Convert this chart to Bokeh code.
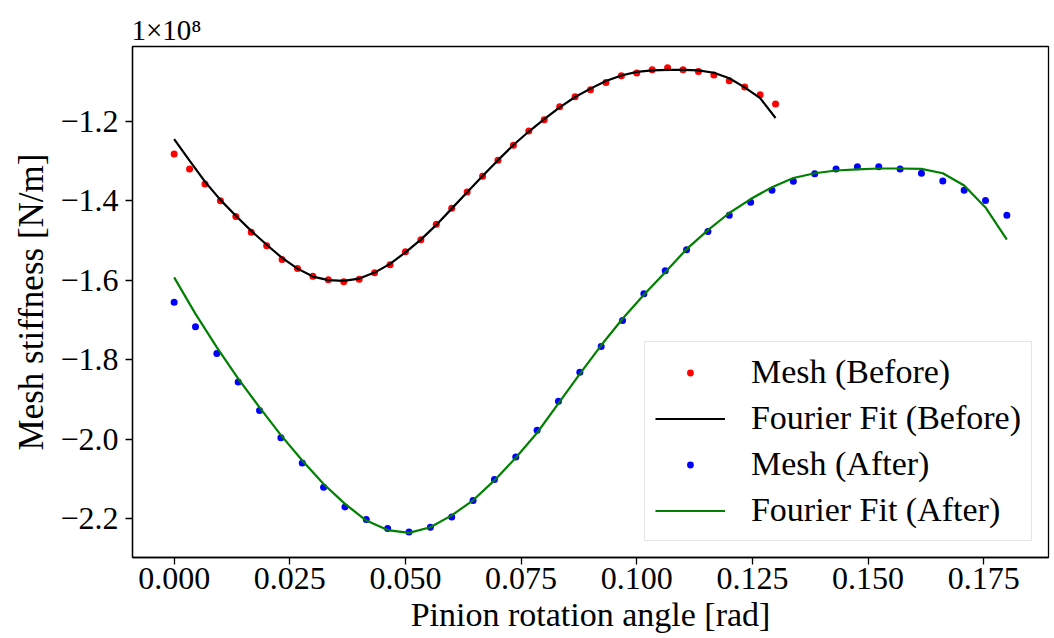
from bokeh.plotting import figure
from bokeh.models import FixedTicker, NumeralTickFormatter, Legend, LegendItem, Range1d
from bokeh.embed import file_html
from bokeh.resources import INLINE

# Pinion rotation angle [rad]: 40 evaluation points for each case
angle_before = [0.13 * i / 39 for i in range(40)]
angle_after = [0.18 * i / 39 for i in range(40)]

# Mesh stiffness, in units of 1e8 N/m
mesh_before = [
    -1.2825, -1.320, -1.358, -1.400, -1.440, -1.4795, -1.5137, -1.548, -1.5708, -1.590,
    -1.599, -1.604, -1.598, -1.5816, -1.5615, -1.5288, -1.4986, -1.4594, -1.4192, -1.378,
    -1.3388, -1.2985, -1.2608, -1.2245, -1.1962, -1.1635, -1.1384, -1.1208, -1.1025, -1.0856,
    -1.0788, -1.0705, -1.0654, -1.0705, -1.0748, -1.0839, -1.0982, -1.114, -1.1334, -1.1568,
]
fit_before = [
    -1.245, -1.299, -1.352, -1.398, -1.438, -1.476, -1.511, -1.544, -1.571, -1.591,
    -1.600, -1.602, -1.596, -1.581, -1.559, -1.530, -1.498, -1.461, -1.420, -1.379,
    -1.338, -1.298, -1.260, -1.226, -1.195, -1.165, -1.139, -1.118, -1.099, -1.085,
    -1.076, -1.072, -1.071, -1.071, -1.072, -1.078, -1.092, -1.115, -1.142, -1.192,
]
mesh_after = [
    -1.6555, -1.7173, -1.7845, -1.8566, -1.9278, -1.9964, -2.0602, -2.1213, -2.1708, -2.2025,
    -2.2251, -2.2337, -2.2219, -2.196, -2.1548, -2.102, -2.0452, -1.978, -1.905, -1.832,
    -1.767, -1.7015, -1.6344, -1.5766, -1.5238, -1.4778, -1.4368, -1.4041, -1.374, -1.3513,
    -1.332, -1.3202, -1.3144, -1.3144, -1.3202, -1.3312, -1.3503, -1.374, -1.3998, -1.4368,
]
fit_after = [
    -1.593, -1.685, -1.769, -1.848, -1.920, -1.990, -2.054, -2.113, -2.163, -2.205,
    -2.229, -2.236, -2.222, -2.192, -2.154, -2.104, -2.047, -1.984, -1.910, -1.836,
    -1.764, -1.697, -1.637, -1.580, -1.522, -1.474, -1.431, -1.396, -1.366, -1.343,
    -1.331, -1.324, -1.321, -1.319, -1.319, -1.320, -1.331, -1.362, -1.417, -1.498,
]

x_ticks = [0.0, 0.025, 0.05, 0.075, 0.1, 0.125, 0.15, 0.175]
y_ticks = [-2.2, -2.0, -1.8, -1.6, -1.4, -1.2]
y_tick_labels = {t: ("\u2212%.1f" % abs(t)) for t in y_ticks}

FONT = "Liberation Serif"
TICK_FS = "32px"
LABEL_FS = "34px"

p = figure(
    width=1054, height=638,
    output_backend="svg", toolbar_location=None,
    x_range=Range1d(-0.009, 0.189), y_range=Range1d(-2.298, -1.012),
    min_border_left=132, min_border_right=6, min_border_top=46, min_border_bottom=81,
)
p.background_fill_color = "white"
p.border_fill_color = "white"
p.grid.visible = False
p.outline_line_color = "black"
p.outline_line_width = 1.3

# scale factor of the y values, shown above the top-left corner
p.title.text = "1\u00d710\u2078"
p.title.align = "left"
p.title.text_font = FONT
p.title.text_font_size = "29px"
p.title.text_font_style = "normal"
p.title.text_color = "black"
p.title.standoff = 2
p.title.offset = -1

r1 = p.scatter(angle_before, mesh_before, size=7, color="red", line_color=None)
r2 = p.line(angle_before, fit_before, line_width=2.2, color="black")
r3 = p.scatter(angle_after, mesh_after, size=7, color="blue", line_color=None)
r4 = p.line(angle_after, fit_after, line_width=2.2, color="green")

for ax in (p.xaxis[0], p.yaxis[0]):
    ax.axis_line_color = "black"
    ax.axis_line_width = 1.3
    ax.major_tick_line_color = "black"
    ax.major_tick_line_width = 1.3
    ax.major_tick_out = 7
    ax.major_tick_in = 0
    ax.minor_tick_line_color = None
    ax.major_label_text_font = FONT
    ax.major_label_text_font_size = TICK_FS
    ax.major_label_text_color = "black"
    ax.axis_label_text_font = FONT
    ax.axis_label_text_font_style = "normal"
    ax.axis_label_text_color = "black"

p.xaxis.ticker = FixedTicker(ticks=x_ticks)
p.xaxis.formatter = NumeralTickFormatter(format="0.000")
p.xaxis.axis_label = "Pinion rotation angle [rad]"
p.xaxis.axis_label_text_font_size = LABEL_FS
p.xaxis.major_label_standoff = 3
p.xaxis.axis_label_standoff = 4

p.yaxis.ticker = FixedTicker(ticks=y_ticks)
p.yaxis.major_label_overrides = y_tick_labels
p.yaxis.axis_label = "Mesh stiffness [N/m]"
p.yaxis.axis_label_text_font_size = "35px"
p.yaxis.major_label_standoff = 7
p.yaxis.axis_label_standoff = 6

legend = Legend(items=[
    LegendItem(label="Mesh (Before)", renderers=[r1]),
    LegendItem(label="Fourier Fit (Before)", renderers=[r2]),
    LegendItem(label="Mesh (After)", renderers=[r3]),
    LegendItem(label="Fourier Fit (After)", renderers=[r4]),
])
legend.location = "bottom_right"
legend.margin = 16
legend.padding = 10
legend.spacing = 6
legend.glyph_width = 70
legend.glyph_height = 17
legend.label_height = 40
legend.label_standoff = 26
legend.label_text_font = FONT
legend.label_text_font_size = LABEL_FS
legend.label_text_color = "black"
legend.border_line_color = "#cccccc"
legend.border_line_width = 1.3
legend.background_fill_color = "white"
legend.background_fill_alpha = 0.8
p.add_layout(legend, "center")

open("out.html", "w").write(file_html(p, INLINE))
